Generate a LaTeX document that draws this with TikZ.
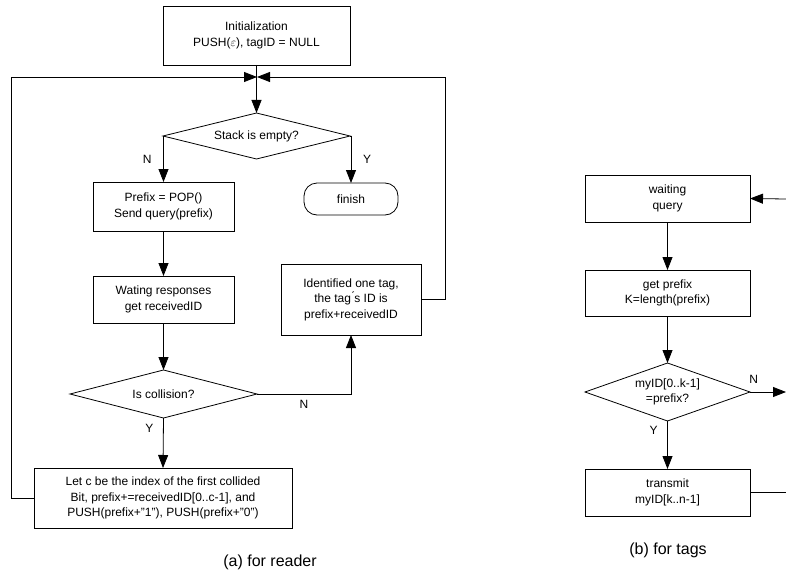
\documentclass[tikz,border=0pt]{standalone}
\usepackage{fontspec}
\setmainfont{Liberation Sans}
\usetikzlibrary{arrows.meta,shapes.geometric}

\begin{document}
\begin{tikzpicture}[x=1pt,y=-1pt,inner sep=0pt,outer sep=0pt,line width=0.8pt,
>={Triangle[length=13pt,width=10pt]},
every node/.style={font=\fontsize{12}{15.5}\selectfont,align=center},
procbox/.style={draw,rectangle,minimum width=#1},
decbox/.style={draw,diamond,aspect=3},
endbox/.style={draw,rectangle,rounded corners=13pt,minimum width=94pt,minimum height=32pt},
caption/.style={font=\fontsize{16}{18}\selectfont}]
\useasboundingbox (0,0) rectangle (786,575);

% (a) reader
\draw (256.5,35.5) node[procbox=187pt,minimum height=59pt] (init) {Initialization\\PUSH($\varepsilon$), tagID = NULL};
\coordinate (junc) at (257,77);
\draw (256.5,136) node[decbox,minimum width=187pt,minimum height=46pt] (stack) {Stack is empty?};
\draw (163.5,206.5) node[procbox=141pt,minimum height=49pt] (prefix) {Prefix = POP()\\Send query(prefix)};
\draw (351,199) node[endbox] (finish) {finish};
\draw (163.5,299.5) node[procbox=141pt,minimum height=47pt] (wating) {Wating responses\\get receivedID};
\draw (351,299.5) node[procbox=140pt,minimum height=71pt] (ident) {Identified one tag,\\the tag\'{}s ID is\\prefix+receivedID};
\draw (163.5,394) node[decbox,minimum width=187pt,minimum height=48pt] (coll) {Is collision?};
\draw (163,498) node[procbox=258pt,minimum height=60pt] (push) {Let c be the index of the first collided\\Bit, prefix+=receivedID[0..c-1], and\\PUSH(prefix+\textquotedblright1\textquotedblright), PUSH(prefix+\textquotedblright0\textquotedblright)};
\draw (270,562) node[caption] (capa) {(a) for reader};

\draw[->] (init.south) -- (stack.north);
\draw[->] (stack.west) -| (prefix.north) node[pos=.75,left=12pt] {N};
\draw[->] (stack.east) -| (finish.north) node[pos=.75,right=12pt] {Y};
\draw[->] (prefix.south) -- (wating.north);
\draw[->] (wating.south) -- (coll.north);
\draw[->] (coll.east) -| (ident.south) node[pos=.25,below=6pt] {N};
\draw[->] (coll.south) -- (push.north) node[pos=.2,left=10pt] {Y};
\draw[->] (push.west) -- ++(-23,0) |- (junc);
\draw[->] (ident.east) -- ++(24,0) |- (junc);

% (b) tags
\draw (667.5,198.5) node[procbox=165pt,minimum height=47pt] (waiting) {waiting\\query};
\draw (667.5,293) node[procbox=165pt,minimum height=46pt] (getpre) {get prefix\\K=length(prefix)};
\draw (667.5,392) node[decbox,aspect=2.8,minimum width=165pt,minimum height=58pt] (match) {myID[0..k-1]\\=prefix?};
\draw (667.5,492.5) node[procbox=165pt,minimum height=47pt] (transmit) {transmit\\myID[k..n-1]};
\draw (668,550) node[caption] (capb) {(b) for tags};
\coordinate (rin) at (786,199);
\coordinate (rout) at (786,392);
\coordinate (rback) at (786,492.5);

\draw[->] (rin) -- (waiting.east);
\draw[->] (waiting.south) -- (getpre.north);
\draw[->] (getpre.south) -- (match.north);
\draw[->] (match.east) -- (rout) node[pos=.1,above=9pt] {N};
\draw[->] (match.south) -- (transmit.north) node[pos=.2,left=10pt] {Y};
\draw (transmit.east) -- (rback);
\end{tikzpicture}
\end{document}
